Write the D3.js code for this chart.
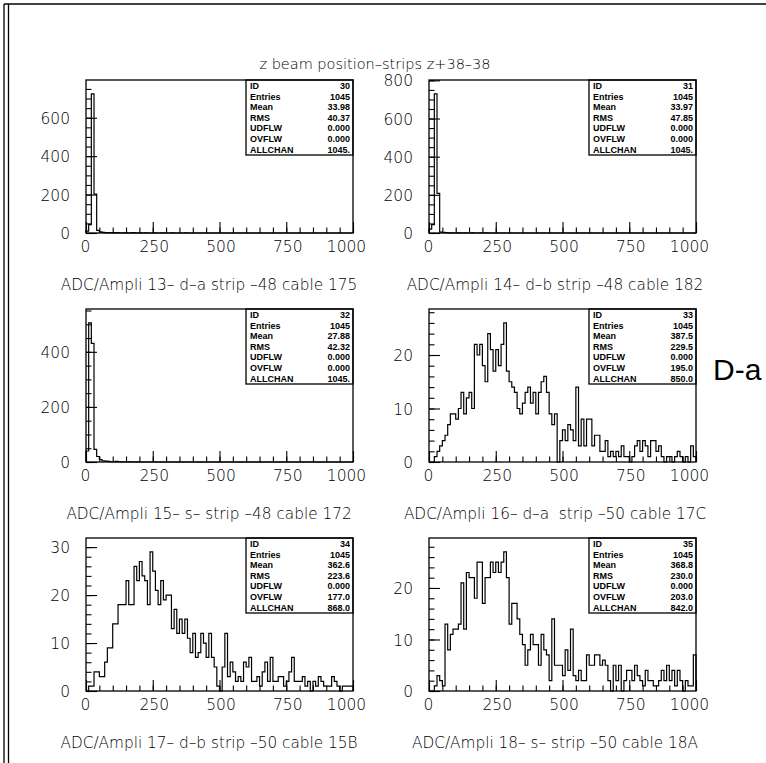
<!DOCTYPE html>
<html><head><meta charset="utf-8">
<script src="https://cdn.jsdelivr.net/npm/d3@7/dist/d3.min.js"></script>
<style>
body{margin:0;background:#fff}
svg{display:block}
.tl{font-family:"DejaVu Sans",sans-serif;font-weight:200}
.st{font-family:"Liberation Sans Narrow","Liberation Sans",Arial,sans-serif;font-weight:bold;font-size:9px}
</style>
</head><body>
<svg id="c" width="766" height="763"></svg>
<script>
// ---------------- data ----------------
const pageTitle = "z beam position–strips z+38–38";
const sideLabel = "D-a";
const xTickLabels = [0, 250, 500, 750, 1000];
const xMinorTicks = [0,50,100,150,200,250,300,350,400,450,500,550,600,650,700,750,800,850,900,950,1000];
const histIds = [30, 31, 32, 33, 34, 35];
const histTitles = [
  "ADC/Ampli 13– d–a strip –48 cable 175",
  "ADC/Ampli 14– d–b strip –48 cable 182",
  "ADC/Ampli 15– s– strip –48 cable 172",
  "ADC/Ampli 16– d–a  strip –50 cable 17C",
  "ADC/Ampli 17– d–b strip –50 cable 15B",
  "ADC/Ampli 18– s– strip –50 cable 18A"
];
const yTickLabels = [
  [0, 200, 400, 600],
  [0, 200, 400, 600, 800],
  [0, 200, 400],
  [0, 10, 20],
  [0, 10, 20, 30],
  [0, 10, 20]
];
const yMinorStep = [50, 50, 50, 2, 2, 2];
const statLabels = ["ID", "Entries", "Mean", "RMS", "UDFLW", "OVFLW", "ALLCHAN"];
const stats30 = ["30", "1045", "33.98", "40.37", "0.000", "0.000", "1045."];
const stats31 = ["31", "1045", "33.97", "47.85", "0.000", "0.000", "1045."];
const stats32 = ["32", "1045", "27.88", "42.32", "0.000", "0.000", "1045."];
const stats33 = ["33", "1045", "387.5", "229.5", "0.000", "195.0", "850.0"];
const stats34 = ["34", "1045", "362.6", "223.6", "0.000", "177.0", "868.0"];
const stats35 = ["35", "1045", "368.8", "230.0", "0.000", "203.0", "842.0"];
// bin contents, 100 bins of width 10 over 0..1000
const h30 = [10,44,724,202,14,6,3,2,1,2, 1,2,1,0,1,1,0,2,1,0, 1,0,1,0,0,1,0,0,1,0, 0,0,1,0,0,0,0,1,0,0,
  0,0,0,0,0,0,0,0,0,0, 0,0,0,0,0,0,0,0,0,0, 0,0,0,0,0,0,0,0,0,0, 0,0,0,0,0,0,0,0,0,0, 0,0,0,0,0,0,0,0,0,0, 0,0,0,0,0,0,0,0,0,0];
const h31 = [20,44,729,208,5,3,2,1,1,0, 1,1,0,1,0,0,1,0,0,1, 0,1,0,0,0,0,0,0,0,0, 0,0,0,0,0,0,0,0,0,0,
  0,0,0,0,0,0,0,0,0,0, 0,0,0,0,0,0,0,0,0,0, 0,0,0,0,0,0,0,0,0,0, 0,0,0,0,0,0,0,0,0,0, 0,0,0,0,0,0,0,0,0,0, 0,0,0,0,0,0,0,0,0,0];
const h32 = [40,505,431,46,20,9,4,3,2,1, 1,2,1,0,1,0,1,0,0,1, 0,0,0,0,0,1,0,0,0,0, 0,0,0,0,0,0,0,0,0,0,
  0,0,0,0,0,0,0,0,0,0, 0,0,0,0,0,0,0,0,0,0, 0,0,0,0,0,0,0,0,0,0, 0,0,0,0,0,0,0,0,0,0, 0,0,0,0,0,0,0,0,0,0, 0,0,0,0,0,0,0,0,0,0];
const h33 = [0,0,1,2,3,4,5,7,9,9, 8,10,13,9,12,13,10,22,20,22, 18,15,24,21,17,21,18,22,26,17,
  15,14,13,10,9,11,13,14,11,13, 9,13,15,16,13,9,7,9,0,4, 6,4,7,6,4,14,3,8,3,8,
  8,3,5,5,2,2,4,1,2,1, 2,1,3,1,1,0,1,3,4,2, 4,3,1,4,4,2,3,1,0,1, 1,0,1,2,1,0,1,0,3,1];
const h34 = [0,1,1,4,4,3,3,6,9,9, 14,14,18,18,18,23,18,18,26,23, 27,24,23,18,29,25,21,18,23,19,
  20,20,13,17,12,15,12,15,11,8, 12,7,8,12,10,7,12,7,5,1, 0,5,12,3,6,4,2,3,2,6,
  5,7,2,2,3,1,4,6,2,7, 2,2,3,3,1,2,4,7,2,2, 2,3,1,2,0,2,1,3,2,1, 1,1,3,2,1,0,1,1,1,1];
const h35 = [0,0,1,3,2,1,13,8,11,12, 12,13,21,12,23,22,22,18,25,25, 17,22,22,25,23,25,23,25,27,22,
  13,17,17,14,11,9,5,8,11,9, 9,5,11,8,7,2,14,5,5,5, 3,8,4,12,3,2,4,2,2,7,
  5,5,7,7,5,6,5,2,0,5, 2,5,0,2,4,4,2,5,3,2, 1,4,2,2,1,1,2,4,2,5, 2,4,1,4,2,0,2,1,1,7];
const hists = [h30, h31, h32, h33, h34, h35];
const statsAll = [stats30, stats31, stats32, stats33, stats34, stats35];

// ---------------- layout ----------------
const colX = [86, 429], rowY = [80, 309, 538];
const PW = 267, PH = 153;
const titleX = [209, 555];
const svg = d3.select("#c");

// page border
svg.append("line").attr("x1", 4).attr("y1", 4).attr("x2", 766).attr("y2", 4).attr("stroke", "#000").attr("stroke-width", 1.3);
svg.append("line").attr("x1", 4).attr("y1", 4).attr("x2", 4).attr("y2", 763).attr("stroke", "#000").attr("stroke-width", 1.3);
svg.append("line").attr("x1", 8.5).attr("y1", 4).attr("x2", 8.5).attr("y2", 763).attr("stroke", "#000").attr("stroke-width", 1.3);

svg.append("text").attr("class", "tl").attr("x", 375).attr("y", 69).attr("text-anchor", "middle")
  .style("font-size", "14.5px").text(pageTitle);

svg.append("text").attr("x", 713).attr("y", 380)
  .style("font-family", "'Liberation Sans',Arial,sans-serif").style("font-size", "30px").text(sideLabel);

hists.forEach((vals, p) => {
  const x0 = colX[p % 2], y0 = rowY[Math.floor(p / 2)];
  const ymax = d3.max(vals) * 1.1;
  const x = d3.scaleLinear().domain([0, 1000]).range([x0, x0 + PW]);
  const y = d3.scaleLinear().domain([0, ymax]).range([y0 + PH, y0]);
  const g = svg.append("g");

  // histogram outline
  const pts = [[0, 0]];
  vals.forEach((v, i) => pts.push([i * 10, v]));
  pts.push([1000, vals[vals.length - 1]]);
  pts.push([1000, 0]);
  g.append("path").attr("d", d3.line().x(d => x(d[0])).y(d => y(d[1])).curve(d3.curveStepAfter)(pts))
    .attr("fill", "none").attr("stroke", "#000").attr("stroke-width", 1.2);

  // axes
  const ax = g.append("g").attr("transform", `translate(0,${y0 + PH})`)
    .call(d3.axisBottom(x).tickValues(xTickLabels).tickSize(-11).tickPadding(8).tickFormat(d3.format("d")));
  const axm = g.append("g").attr("transform", `translate(0,${y0 + PH})`)
    .call(d3.axisBottom(x).tickValues(xMinorTicks).tickSize(-5.5).tickFormat(""));
  const ay = g.append("g").attr("transform", `translate(${x0},0)`)
    .call(d3.axisLeft(y).tickValues(yTickLabels[p]).tickSize(-11).tickPadding(16).tickFormat(d3.format("d")));
  const aym = g.append("g").attr("transform", `translate(${x0},0)`)
    .call(d3.axisLeft(y).tickValues(d3.range(0, ymax, yMinorStep[p])).tickSize(-5.5).tickFormat(""));
  [ax, axm, ay, aym].forEach(a => {
    a.select(".domain").remove();
    a.selectAll("line").attr("stroke", "#000").attr("stroke-width", 1.1);
    a.selectAll("text").attr("class", "tl").attr("fill", "#000").style("font-size", "15.5px");
  });
  ay.selectAll("text").attr("dy", "0.36em");
  ax.selectAll("text").attr("dx", d => d === 1000 ? -7 : (d === 0 ? -1 : 1));

  // stats box
  const bw = 107, bh = 75, bx = x0 + PW - bw;
  g.append("rect").attr("x", bx).attr("y", y0).attr("width", bw).attr("height", bh)
    .attr("fill", "#fff").attr("stroke", "#000").attr("stroke-width", 1.3);
  statLabels.forEach((lab, i) => {
    const ty = y0 + 9 + i * 10.6;
    g.append("text").attr("class", "st").attr("x", bx + 4).attr("y", ty).text(lab);
    g.append("text").attr("class", "st").attr("x", bx + bw - 3).attr("y", ty).attr("text-anchor", "end").text(statsAll[p][i]);
  });

  // frame
  g.append("rect").attr("x", x0).attr("y", y0).attr("width", PW).attr("height", PH)
    .attr("fill", "none").attr("stroke", "#000").attr("stroke-width", 1.3);

  // title under panel
  g.append("text").attr("class", "tl").attr("x", titleX[p % 2]).attr("y", y0 + PH + 57)
    .attr("text-anchor", "middle").style("font-size", "15.3px").style("white-space", "pre").text(histTitles[p]);
});
</script>
</body></html>
